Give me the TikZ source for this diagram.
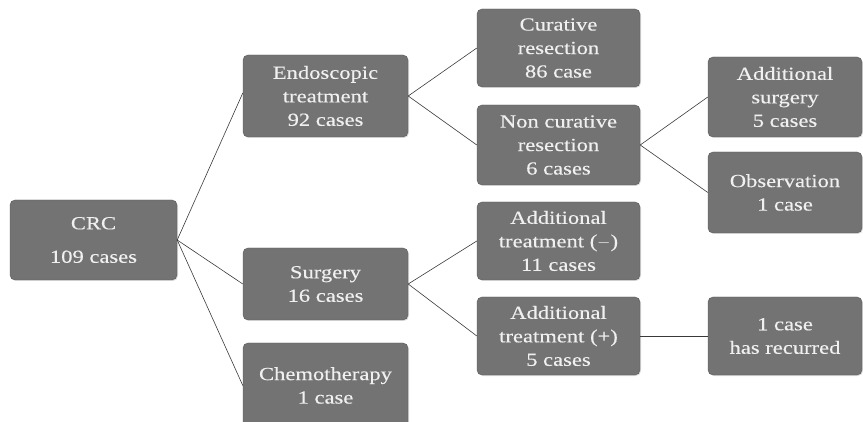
\documentclass[tikz,border=0pt]{standalone}
\usepackage{fontspec}
\setmainfont{Liberation Serif}[FakeStretch=1.22, FakeBold=0.25]
\usetikzlibrary{shadows}
\definecolor{boxfill}{HTML}{737373}
\definecolor{boxedge}{HTML}{5A5A5A}
\definecolor{linecol}{HTML}{3A3A3A}
\tikzset{
  box/.style={draw=boxedge, fill=boxfill, rounded corners=5pt, text=white!94!black,
    font=\fontsize{18.5}{23.5}\selectfont, align=center, inner sep=0pt,
    drop shadow={shadow xshift=1pt, shadow yshift=-1pt, opacity=0.25}},
  link/.style={draw=linecol, line width=0.6pt}
}
\begin{document}
\begin{tikzpicture}[x=1pt,y=-1pt]
\useasboundingbox (0,0) rectangle (863,422);
\newcommand{\bx}[6]{\node[box, minimum width=#4-#2, minimum height=#5-#3] (#1) at ({(#2+#4)/2},{(#3+#5)/2}) {#6};}
\bx{crc}{10}{200}{177}{280}{CRC\\[10pt]109 cases}
\bx{endo}{243}{55}{408}{137}{Endoscopic\\treatment\\92 cases}
\bx{surg}{243}{248}{408}{320}{Surgery\\16 cases}
\bx{chemo}{243}{343}{408}{428}{Chemotherapy\\1 case}
\bx{cur}{477}{9}{640}{87}{Curative\\resection\\86 case}
\bx{noncur}{477}{105}{640}{185}{Non curative\\resection\\6 cases}
\bx{addm}{477}{202}{640}{280}{Additional\\treatment ($-$)\\11 cases}
\bx{addp}{477}{297}{640}{375}{Additional\\treatment (+)\\5 cases}
\bx{addsurg}{708}{57}{862}{137}{Additional\\surgery\\5 cases}
\bx{obs}{708}{152}{862}{233}{Observation\\1 case}
\bx{rec}{708}{297}{862}{375}{1 case\\has recurred}
\draw[link] (crc.east) -- ([yshift=3pt]endo.west);
\draw[link] (crc.east) -- (surg.west);
\draw[link] (crc.east) -- (chemo.west);
\draw[link] (endo.east) -- (cur.west);
\draw[link] (endo.east) -- (noncur.west);
\draw[link] (noncur.east) -- (addsurg.west);
\draw[link] (noncur.east) -- (obs.west);
\draw[link] (surg.east) -- (addm.west);
\draw[link] (surg.east) -- (addp.west);
\draw[link] (addp.east) -- (rec.west);
\end{tikzpicture}
\end{document}
